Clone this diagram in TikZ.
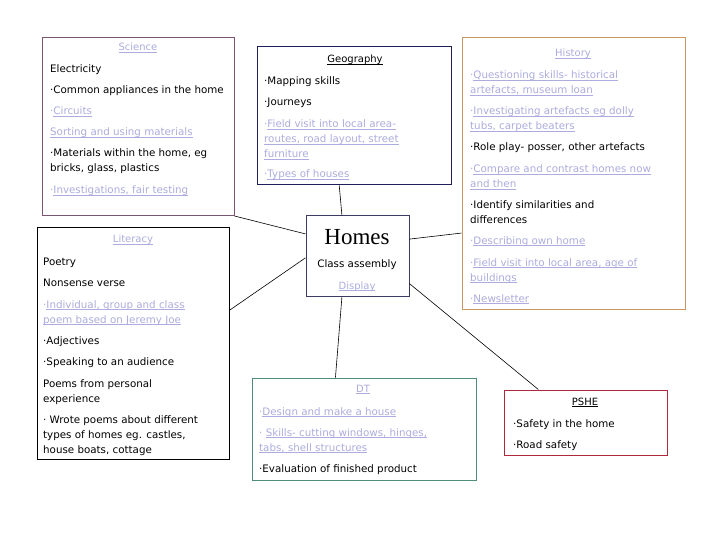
\documentclass[tikz,border=0pt]{standalone}
\usepackage{fontspec}
\setmainfont{DejaVu Sans}
\newfontfamily\homesfont{Liberation Serif}
\usepackage{xcolor}
\usetikzlibrary{positioning}

\definecolor{linkc}{RGB}{172,172,222}
\definecolor{scic}{RGB}{122,84,112}
\definecolor{geoc}{RGB}{30,30,90}
\definecolor{histc}{RGB}{204,150,96}
\definecolor{homec}{RGB}{60,60,100}
\definecolor{dtc}{RGB}{80,140,120}
\definecolor{pshec}{RGB}{175,40,60}

\newsavebox\lkbox
\newcommand{\lk}[1]{\sbox\lkbox{#1}\rlap{\rule[-1.8pt]{\wd\lkbox}{0.5pt}}\usebox\lkbox}
\newcommand{\bul}{\textperiodcentered}

\begin{document}
\begin{tikzpicture}[x=1pt,y=-1pt,
    topic/.style={rectangle,draw,line width=1pt,inner sep=0pt,fill=white},
    item/.style={anchor=base west,inner sep=0pt,align=left,font=\fontsize{10.3}{15}\selectfont},
    head/.style={anchor=base,inner sep=0pt,font=\fontsize{10}{12}\selectfont},
    link/.style={text=linkc},
    spoke/.style={line width=0.6pt,black}
]
    \useasboundingbox (0,0) rectangle (720,540);

    % Topic boxes
    \node[topic,draw=scic,minimum width=192pt,minimum height=178pt] (sci) at (138,126.5) {};
    \node[topic,draw=geoc,minimum width=194pt,minimum height=138pt] (geo) at (354,116) {};
    \node[topic,draw=histc,minimum width=223pt,minimum height=271pt] (hist) at (573.5,173.5) {};
    \node[topic,draw=homec,minimum width=103pt,minimum height=80pt] (homes) at (357.5,256) {};
    \node[topic,draw=black,minimum width=192pt,minimum height=231pt] (lit) at (133,343.5) {};
    \node[topic,draw=dtc,minimum width=224pt,minimum height=102pt] (dt) at (364,429) {};
    \node[topic,draw=pshec,minimum width=163pt,minimum height=65pt] (pshe) at (585.5,422.5) {};

    % Spokes to the centre
    \draw[spoke] (sci.south east) -- (homes.157);
    \draw[spoke] (geo.258) -- (homes.111);
    \draw[spoke] (homes.18) -- (hist.208);
    \draw[spoke] (lit.19) -- (homes.182);
    \draw[spoke] (homes.249) -- (dt.119);
    \draw[spoke] (homes.332) -- (pshe.145);

    % Science
    \node[head,link] (sciT) at (138,51) {\lk{Science}};
    \node[item] (sci1) at (50,73) {Electricity};
    \node[item] (sci2) at (50,94) {\bul Common appliances in the home};
    \node[item,link] (sci3) at (50,115) {\bul\lk{Circuits}};
    \node[item,link] (sci4) at (50,136) {\lk{Sorting and using materials}};
    \node[item] (sci5) at (50,172) {\bul Materials within the home, eg\\bricks, glass, plastics};
    \node[item,link] (sci6) at (50,194) {\bul\lk{Investigations, fair testing}};

    % Geography
    \node[head] (geoT) at (355,63) {\lk{Geography}};
    \node[item] (geo1) at (264,85) {\bul Mapping skills};
    \node[item] (geo2) at (264,106) {\bul Journeys};
    \node[item,link] (geo3) at (264,158) {\bul\lk{Field visit into local area-}\\\lk{routes, road layout, street}\\\lk{furniture}};
    \node[item,link] (geo4) at (264,178) {\bul\lk{Types of houses}};

    % History
    \node[head,link] (histT) at (573,57) {\lk{History}};
    \node[item,link] (hist1) at (470,94) {\bul\lk{Questioning skills- historical}\\\lk{artefacts, museum loan}};
    \node[item,link] (hist2) at (470,130) {\bul\lk{Investigating artefacts eg dolly}\\\lk{tubs, carpet beaters}};
    \node[item] (hist3) at (470,151) {\bul Role play- posser, other artefacts};
    \node[item,link] (hist4) at (470,188) {\bul\lk{Compare and contrast homes now}\\\lk{and then}};
    \node[item] (hist5) at (470,223) {\bul Identify similarities and\\differences};
    \node[item,link] (hist6) at (470,244) {\bul\lk{Describing own home}};
    \node[item,link] (hist7) at (470,281) {\bul\lk{Field visit into local area, age of}\\\lk{buildings}};
    \node[item,link] (hist8) at (470,302) {\bul\lk{Newsletter}};

    % Centre
    \node[anchor=base,inner sep=0pt,font=\homesfont\fontsize{23}{26}\selectfont] (homesT) at (357,244) {Homes};
    \node[head,font=\fontsize{10.3}{12}\selectfont] (homes1) at (357,267) {Class assembly};
    \node[head,link] (homes2) at (357,289) {\lk{Display}};

    % Literacy
    \node[head,link] (litT) at (133,243) {\lk{Literacy}};
    \node[item] (lit1) at (43,265) {Poetry};
    \node[item] (lit2) at (43,286) {Nonsense verse};
    \node[item,link] (lit3) at (43,323) {\bul\lk{Individual, group and class}\\\lk{poem based on Jeremy Joe}};
    \node[item] (lit4) at (43,344) {\bul Adjectives};
    \node[item] (lit5) at (43,365) {\bul Speaking to an audience};
    \node[item] (lit6) at (43,402) {Poems from personal\\experience};
    \node[item] (lit7) at (43,453) {\bul\ Wrote poems about different\\types of homes eg. castles,\\house boats, cottage};

    % DT
    \node[head,link] (dtT) at (363,392) {\lk{DT}};
    \node[item,link] (dt1) at (259,415) {\bul\lk{Design and make a house}};
    \node[item,link] (dt2) at (259,451) {\bul\ \lk{Skills- cutting windows, hinges,}\\\lk{tabs, shell structures}};
    \node[item] (dt3) at (259,472) {\bul Evaluation of finished product};

    % PSHE
    \node[head] (psheT) at (585,405) {\lk{PSHE}};
    \node[item] (pshe1) at (513,427) {\bul Safety in the home};
    \node[item] (pshe2) at (513,448) {\bul Road safety};
\end{tikzpicture}
\end{document}
